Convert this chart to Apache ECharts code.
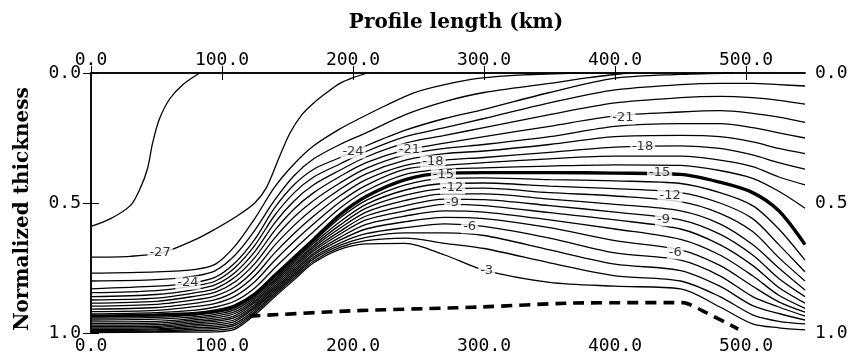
<!DOCTYPE html>
<html>
<head>
<meta charset="utf-8">
<script src="https://cdn.jsdelivr.net/npm/echarts@6/dist/echarts.min.js"></script>
<style>
html, body { margin: 0; background: #fff; }
#chart { width: 854px; height: 357px; }
</style>
</head>
<body>
<div id="chart"></div>
<script>
// isotherms, x = profile length (km), y = normalized thickness (0 = surface)
var xKm = [0, 50, 80, 95, 110, 125, 140, 155, 170, 190, 210, 240, 270, 300, 350, 400, 450, 480, 505, 525, 545];

// cold lines that reach the surface, given as [km, thickness] pairs
var iso28 = [[0,.59],[15,.56],[30,.51],[37,.45],[43,.37],[47,.27],[52,.18],[60,.10],[70,.045],[83,0]];
var iso27 = [[0,.708],[30,.705],[55,.69],[80,.64],[95,.60],[110,.555],[125,.50],[134,.44],[144,.32],[152,.23],[161,.16],[170,.115],[180,.075],[190,.04],[200,.018],[211,0]];
var iso26 = [[0,.77],[50,.765],[80,.755],[95,.735],[110,.665],[125,.56],[140,.44],[155,.35],[170,.28],[190,.215],[205,.175],[225,.125],[246,.077],[270,.045],[297,.02],[330,.007],[373,0]];
var iso25 = [[0,.80],[50,.795],[80,.78],[95,.76],[110,.70],[125,.605],[140,.49],[155,.395],[170,.33],[190,.275],[210,.23],[240,.16],[270,.11],[300,.075],[350,.04],[380,.018],[410,0]];
var iso24 = [[0,.83],[50,.82],[74,.81],[95,.785],[110,.73],[125,.64],[140,.52],[155,.43],[170,.37],[190,.325],[210,.28],[240,.22],[270,.175],[300,.14],[350,.075],[400,.02],[450,.005],[490,0]];

// the rest, one value per xKm
var iso23 = [.845,.837,.818,.80,.748,.663,.549,.461,.40,.35,.302,.245,.21,.175,.115,.065,.045,.04,.04,.045,.05];
var iso22 = [.86,.852,.832,.814,.767,.687,.578,.492,.43,.374,.323,.27,.24,.21,.16,.115,.095,.09,.095,.105,.12];
var iso21 = [.873,.866,.845,.829,.785,.71,.607,.523,.46,.398,.345,.296,.27,.245,.205,.165,.15,.145,.155,.17,.19];
var iso20 = [.885,.878,.858,.843,.803,.733,.636,.554,.49,.423,.367,.315,.29,.275,.245,.205,.195,.195,.21,.23,.25];
var iso19 = [.897,.89,.872,.857,.822,.757,.664,.586,.52,.447,.388,.335,.31,.30,.275,.245,.24,.245,.265,.29,.31];
var iso18 = [.908,.902,.885,.872,.84,.78,.693,.617,.55,.472,.41,.355,.335,.325,.305,.285,.28,.29,.315,.345,.37];
var iso17 = [.918,.913,.898,.886,.858,.803,.722,.648,.58,.496,.432,.37,.355,.345,.33,.32,.32,.335,.36,.40,.43];
var iso16 = [.927,.922,.912,.90,.877,.827,.751,.679,.61,.52,.453,.39,.37,.365,.358,.353,.355,.375,.405,.455,.52];
var iso15 = [.935,.931,.925,.915,.895,.85,.78,.71,.64,.545,.475,.41,.385,.383,.383,.385,.39,.42,.46,.53,.66];
var iso14 = [.943,.94,.931,.922,.903,.857,.787,.717,.648,.558,.49,.43,.405,.403,.41,.415,.425,.46,.51,.60,.72];
var iso13 = [.95,.947,.937,.928,.91,.863,.794,.724,.655,.572,.505,.45,.425,.423,.435,.445,.46,.50,.56,.66,.765];
var iso12 = [.957,.955,.943,.935,.918,.87,.80,.731,.663,.585,.52,.47,.445,.443,.46,.473,.495,.54,.61,.71,.80];
var iso11 = [.964,.962,.949,.942,.925,.877,.807,.738,.67,.597,.535,.49,.465,.465,.485,.505,.53,.58,.66,.75,.835];
var iso10 = [.97,.968,.955,.949,.933,.883,.814,.745,.678,.609,.55,.51,.485,.487,.51,.535,.565,.62,.70,.79,.86];
var iso9  = [.976,.974,.961,.955,.94,.89,.821,.753,.685,.62,.565,.53,.505,.51,.537,.565,.60,.66,.74,.825,.885];
var iso8  = [.981,.979,.967,.962,.948,.897,.828,.76,.693,.632,.582,.55,.53,.535,.565,.60,.64,.70,.78,.855,.905];
var iso7  = [.986,.984,.973,.969,.955,.903,.835,.767,.70,.643,.60,.572,.555,.56,.595,.645,.68,.74,.82,.88,.92];
var iso6  = [.99,.988,.979,.976,.963,.91,.841,.774,.708,.654,.618,.595,.58,.59,.635,.692,.72,.78,.86,.90,.935];
var iso5  = [.993,.992,.985,.982,.97,.917,.848,.781,.715,.663,.632,.615,.615,.625,.68,.735,.76,.82,.895,.925,.95];
var iso4  = [.996,.995,.991,.989,.978,.923,.855,.788,.723,.671,.645,.635,.655,.675,.73,.78,.80,.86,.93,.955,.965];
var iso3  = [.998,.997,.997,.996,.985,.93,.862,.795,.73,.678,.657,.655,.70,.758,.805,.82,.83,.90,.965,.98,.988];

// dashed basal line
var dashKm = [121, 198, 297, 366, 452, 470, 488, 494];
var dashT  = [.935, .915, .90, .885, .883, .923, .969, .985];

// contour labels [km, thickness, text]
var isoLabels = [
    [52.7,.692,'-27'], [74,.808,'-24'], [200,.304,'-24'], [243,.296,'-21'],
    [261,.342,'-18'], [269,.392,'-15'], [276,.442,'-12'], [276,.50,'-9'],
    [289,.592,'-6'], [302,.762,'-3'], [406,.173,'-21'], [421,.285,'-18'],
    [434,.385,'-15'], [442,.473,'-12'], [437,.565,'-9'], [446,.692,'-6']
];

var pairLines = [iso28, iso27, iso26, iso25, iso24];
var rowLines = [iso23, iso22, iso21, iso20, iso19, iso18, iso17, iso16, iso15,
                iso14, iso13, iso12, iso11, iso10, iso9, iso8, iso7, iso6, iso5, iso4, iso3];

var series = [];
pairLines.forEach(function (pts) {
    series.push({type: 'line', data: pts, smooth: 0.3, symbol: 'none', silent: true,
        lineStyle: {color: '#000', width: 1.3}});
});
rowLines.forEach(function (row) {
    var pts = row.map(function (t, i) { return [xKm[i], t]; });
    series.push({type: 'line', data: pts, smooth: 0.3, symbol: 'none', silent: true,
        lineStyle: {color: '#000', width: row === iso15 ? 3.4 : 1.3}});
});
series.push({
    type: 'line', smooth: 0.2, symbol: 'none', silent: true,
    data: dashKm.map(function (x, i) { return [x, dashT[i]]; }),
    lineStyle: {color: '#000', width: 3.6, type: [11, 7]}
});
series.push({
    type: 'scatter', symbolSize: 0, silent: true, z: 5,
    data: isoLabels.map(function (d) { return [d[0], d[1], d[2]]; }),
    label: {
        show: true, position: 'inside',
        formatter: function (p) { return p.data[2]; },
        fontFamily: 'DejaVu Sans', fontSize: 13, color: '#000',
        backgroundColor: '#fff', padding: [0, 2]
    }
});

var tickFont = {fontFamily: 'DejaVu Sans Mono', fontSize: 18, color: '#000'};

function xAx(pos, withName) {
    return {
        type: 'value', position: pos, min: 0, max: 545, interval: 100,
        name: withName ? 'Profile length (km)' : '',
        nameLocation: 'middle', nameGap: 40,
        nameTextStyle: {fontFamily: 'DejaVu Serif', fontWeight: 'bold', fontSize: 20,
            color: '#000', padding: [0, 0, 0, 16]},
        axisLine: {show: true, lineStyle: {color: '#000', width: 1.5}},
        axisTick: {inside: true, length: 7, lineStyle: {color: '#000'}},
        axisLabel: Object.assign({formatter: function (v) { return v.toFixed(1); },
            margin: 4, showMaxLabel: false}, tickFont),
        splitLine: {show: false}
    };
}
function yAx(pos, withName) {
    return {
        type: 'value', position: pos, min: 0, max: 1, interval: 0.5, inverse: true,
        name: withName ? 'Normalized thickness' : '',
        nameLocation: 'middle', nameGap: 58,
        nameTextStyle: {fontFamily: 'DejaVu Serif', fontWeight: 'bold', fontSize: 20,
            color: '#000', padding: [0, 12, 0, 0]},
        axisLine: {show: true, lineStyle: {color: '#000', width: 1.5}},
        axisTick: {inside: true, length: 8, lineStyle: {color: '#000'}},
        axisLabel: Object.assign({formatter: function (v) { return v.toFixed(1); },
            margin: 10}, tickFont),
        splitLine: {show: false}
    };
}

var chart = echarts.init(document.getElementById('chart'), null, {renderer: 'canvas'});
chart.setOption({
    animation: false,
    backgroundColor: '#fff',
    grid: {left: 91, right: 49, top: 73, bottom: 24},
    xAxis: [xAx('bottom', false), xAx('top', true)],
    yAxis: [yAx('left', true), yAx('right', false)],
    series: series
});
</script>
</body>
</html>
